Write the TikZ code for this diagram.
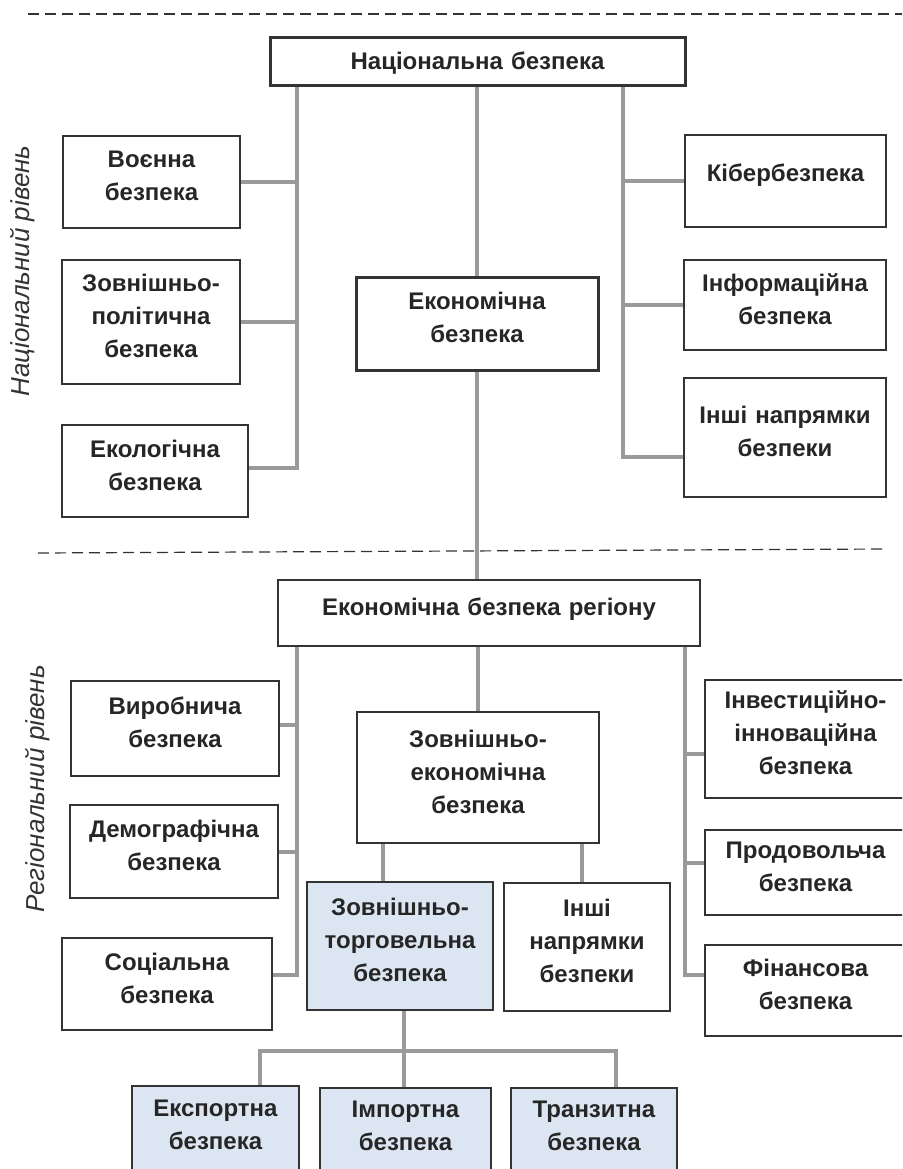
\documentclass[tikz,border=0pt]{standalone}
\usepackage{fontspec}
\setmainfont{Liberation Sans}
\usetikzlibrary{calc}
\definecolor{lgray}{HTML}{9A9A9A}
\definecolor{lblue}{HTML}{DCE6F2}
\definecolor{dgray}{HTML}{333333}
\tikzset{
	box/.style 2 args={draw=dgray,line width=1.3pt,fill=white,minimum width=#1,minimum height=#2,inner sep=0pt,text width=#1,align=center,font=\fontsize{24}{33}\selectfont\bfseries,text=black!85,execute at end node={\par\kern12pt}},
	tbox/.style 2 args={box={#1}{#2},line width=3pt},
	bbox/.style 2 args={box={#1}{#2},fill=lblue},
	link/.style={draw=lgray,line width=4pt},
	lvl/.style={draw=dgray,line width=1.2pt,dash pattern=on 11pt off 6pt},
	side/.style={rotate=90,font=\itshape\fontsize{26}{30}\selectfont,text=black!80}
}

\begin{document}
\begin{tikzpicture}[x=1pt,y=-1pt]
	\useasboundingbox (0,0) rectangle (902,1169);
	\clip (0,0) rectangle (902,1169);

	% levels
	\draw[lvl] (28,14) -- (902,14);
	\draw[lvl] (38,553) -- (886,549);
	\node[side] (nr) at (23,271) {Національний рівень};
	\node[side] (rr) at (38,789) {Регіональний рівень};

	% national level
	\node[tbox={415pt}{48pt},execute at end node={\par\kern-14pt}] (nb) at (477.5,62) {Національна безпека};
	\node[box={177pt}{92pt}] (vb) at (151.5,182) {Воєнна\\безпека};
	\node[box={178pt}{124pt}] (zpb) at (151,322) {Зовнішньо-\\політична\\безпека};
	\node[box={186pt}{92pt}] (eko) at (155,471) {Екологічна\\безпека};
	\node[tbox={242pt}{93pt}] (eb) at (477,323.5) {Економічна\\безпека};
	\node[box={201pt}{92pt}] (kib) at (785.5,181) {Кібербезпека};
	\node[box={202pt}{90pt}] (inf) at (785,305) {Інформаційна\\безпека};
	\node[box={202pt}{119pt}] (inshi) at (785,437.5) {Інші напрямки\\безпеки};

	\coordinate (la) at (297,468);
	\coordinate (ra) at (623,457);
	\draw[link] (nb.south -| la) -- (la) -- (eko.east |- la);
	\draw[link] (vb.east) -- (vb.east -| la);
	\draw[link] (zpb.east) -- (zpb.east -| la);
	\draw[link] (nb.south -| ra) -- (ra) -- (inshi.west |- ra);
	\draw[link] (kib.west) -- (kib.west -| ra);
	\draw[link] (inf.west) -- (inf.west -| ra);
	\draw[link] (nb.south -| eb.north) -- (eb.north);

	% regional level
	\node[box={422pt}{66pt},execute at end node={\par\kern-4pt}] (ebr) at (489,613) {Економічна безпека регіону};
	\node[box={208pt}{95pt}] (vyr) at (175,728.5) {Виробнича\\безпека};
	\node[box={208pt}{93pt}] (dem) at (174,851.5) {Демографічна\\безпека};
	\node[box={210pt}{92pt}] (soc) at (167,984) {Соціальна\\безпека};
	\node[box={242pt}{131pt}] (zeb) at (478,777.5) {Зовнішньо-\\економічна\\безпека};
	\node[box={201pt}{118pt}] (inv) at (805.5,739) {Інвестиційно-\\інноваційна\\безпека};
	\node[box={201pt}{85pt}] (prod) at (805.5,872.5) {Продовольча\\безпека};
	\node[box={201pt}{91pt}] (fin) at (805.5,990.5) {Фінансова\\безпека};
	\node[bbox={186pt}{128pt}] (ztb) at (400,946) {Зовнішньо-\\торговельна\\безпека};
	\node[box={166pt}{128pt}] (inshi2) at (587,947) {Інші\\напрямки\\безпеки};
	\node[bbox={167pt}{89pt}] (exp) at (215.5,1130.5) {Експортна\\безпека};
	\node[bbox={171pt}{87pt}] (imp) at (405.5,1131.5) {Імпортна\\безпека};
	\node[bbox={166pt}{87pt}] (tran) at (594,1131.5) {Транзитна\\безпека};

	\draw[link] (eb.south) -- (eb.south |- ebr.north);
	\coordinate (lb) at (297,975);
	\coordinate (rb) at (685,975);
	\draw[link] (ebr.south -| lb) -- (lb) -- (soc.east |- lb);
	\draw[link] ([yshift=4pt]vyr.east) -- ([yshift=4pt]vyr.east -| lb);
	\draw[link] (dem.east) -- (dem.east -| lb);
	\draw[link] (ebr.south -| rb) -- (rb) -- (fin.west |- rb);
	\draw[link] ([yshift=-15pt]inv.west) -- ([yshift=-15pt]inv.west -| rb);
	\draw[link] ([yshift=10pt]prod.west) -- ([yshift=10pt]prod.west -| rb);
	\draw[link] (ebr.south -| zeb.north) -- (zeb.north);
	\draw[link] ([xshift=-17pt]ztb.north) -- ([xshift=-17pt]ztb.north |- zeb.south);
	\draw[link] ([xshift=-5pt]inshi2.north) -- ([xshift=-5pt]inshi2.north |- zeb.south);

	\coordinate (tj) at (404,1051);
	\draw[link] (ztb.south -| tj) -- (tj);
	\draw[link] ([xshift=44pt]exp.north) |- (tj) -| ([xshift=22pt]tran.north);
	\draw[link] (tj) -- (imp.north -| tj);
\end{tikzpicture}
\end{document}
